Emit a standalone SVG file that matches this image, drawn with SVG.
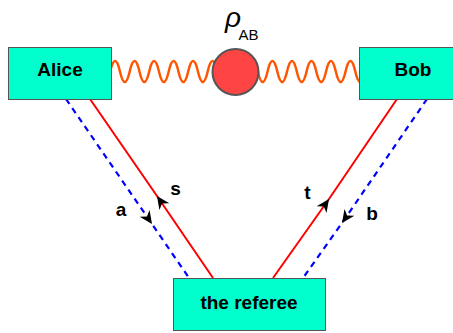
<svg xmlns="http://www.w3.org/2000/svg" width="453" height="333" viewBox="0 0 453 333">
<defs>
<marker id="ah" markerUnits="userSpaceOnUse" markerWidth="16" markerHeight="16" viewBox="-14 -8 16 16" refX="0" refY="0" orient="auto">
<path d="M0,0 L-13,-6 L-9,0 L-13,6 Z" fill="#000"/>
</marker>
<style>
.box{fill:#00FFCC;stroke:#555;stroke-width:1}
.lbl{font-family:"Liberation Sans",Arial,sans-serif;font-weight:bold;font-size:19px;fill:#000;text-anchor:middle}
.red{fill:none;stroke:#FF0000;stroke-width:2;marker-mid:url(#ah)}
.blue{fill:none;stroke:#0000FF;stroke-width:2.2;stroke-dasharray:6,5;marker-mid:url(#ah)}
.wave{fill:none;stroke:#FF5500;stroke-width:2.5}
</style>
</defs>
<g id="connectors">
<polyline class="red" points="213,278 157,196 90,99"/>
<polyline class="blue" points="66,99 152,224 189,278"/>
<polyline class="red" points="273,278 329,199 397,99"/>
<polyline class="blue" points="427,99 342,223 303,278"/>
<path class="wave" d="M110.2,71.5 q4.875,-21 9.75,0 t9.75,0 t9.75,0 t9.75,0 t9.75,0 t9.75,0 t9.75,0 t9.75,0 t9.75,0 t9.75,0 t9.75,0"/>
<path class="wave" d="M257.8,71.5 q4.875,21 9.75,0 t9.75,0 t9.75,0 t9.75,0 t9.75,0 t9.75,0 t9.75,0 t9.75,0 t9.75,0 t9.75,0 t9.75,0"/>
<text class="lbl" x="175.5" y="195">s</text>
<text class="lbl" x="121" y="216">a</text>
<text class="lbl" x="307.5" y="199">t</text>
<text class="lbl" x="372" y="220">b</text>
</g>
<g id="alice">
<rect class="box" x="8.5" y="47.5" width="103" height="52"/>
<text class="lbl" x="60" y="76">Alice</text>
</g>
<g id="bob">
<rect class="box" x="359.5" y="47.5" width="103" height="52"/>
<text class="lbl" x="413" y="76">Bob</text>
</g>
<g id="rho">
<circle cx="235.5" cy="72" r="23" fill="#FF4444" stroke="#555" stroke-width="2"/>
<text x="225" y="27" font-family="'Liberation Sans',Arial,sans-serif" font-style="italic" font-size="28">ρ</text>
<text x="238.5" y="40" font-family="'Liberation Sans',Arial,sans-serif" font-size="15">AB</text>
</g>
<g id="referee">
<rect class="box" x="173.5" y="278.5" width="152" height="52"/>
<text class="lbl" x="249" y="309">the referee</text>
</g>
</svg>
